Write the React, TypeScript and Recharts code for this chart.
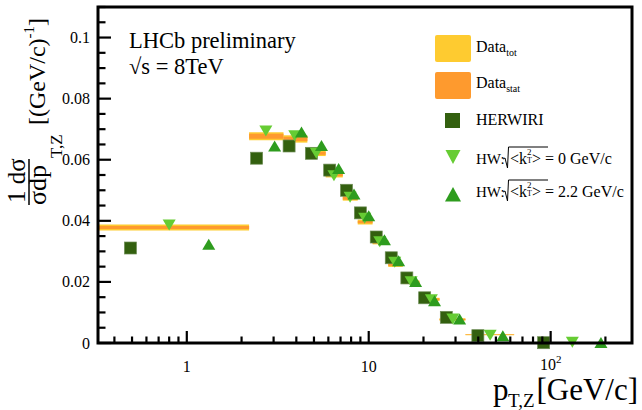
import React from "react";
import { ScatterChart, Scatter, XAxis, YAxis, ReferenceArea } from "recharts";

// pT,Z bins [GeV/c]
const binLo = [0, 2.2, 3.4, 4.6, 5.8, 7.2, 8.7, 10.5, 12.8, 15.4, 19.0, 24.5, 34.0, 63.0];
const binHi = [2.2, 3.4, 4.6, 5.8, 7.2, 8.7, 10.5, 12.8, 15.4, 19.0, 24.5, 34.0, 63.0, 270.0];

// measured data with total / statistical uncertainty
const dataVal = [0.0378, 0.0677, 0.0668, 0.0621, 0.0551, 0.0474, 0.0396, 0.033, 0.0256, 0.0199, 0.0143, 0.0077, 0.0027, 0.0002];
const dataTotErr = [0.001, 0.0013, 0.0012, 0.0009, 0.0009, 0.0008, 0.0008, 0.0007, 0.0007, 0.0006, 0.0005, 0.0004, 0.0002, 0.0001];
const dataStatErr = [0.0005, 0.0008, 0.0007, 0.0005, 0.0005, 0.0005, 0.0004, 0.0004, 0.0004, 0.0003, 0.0003, 0.0002, 0.0001, 0.0001];

// HERWIRI
const herwiriX = [0.49, 2.42, 3.65, 4.84, 6.1, 7.55, 9.0, 11.0, 13.3, 16.2, 20.3, 26.7, 39.8, 91.5];
const herwiriY = [0.0311, 0.0605, 0.0645, 0.0621, 0.0566, 0.05, 0.0426, 0.0347, 0.0279, 0.0213, 0.0148, 0.0084, 0.0024, 0.0001];

// HW: sqrt<kT^2> = 0 GeV/c
const hwK0X = [0.8, 2.72, 3.92, 5.15, 6.44, 7.9, 9.5, 11.5, 13.9, 17.1, 22.1, 29.0, 46.5, 131.6];
const hwK0Y = [0.0388, 0.0696, 0.068, 0.0623, 0.0549, 0.0479, 0.041, 0.0333, 0.0266, 0.0202, 0.0143, 0.008, 0.0027, 0.0004];

// HW: sqrt<kT^2> = 2.2 GeV/c
const hwK22X = [1.32, 3.04, 4.27, 5.5, 6.83, 8.3, 10.0, 12.2, 14.6, 18.1, 23.0, 31.6, 54.6, 189.0];
const hwK22Y = [0.0322, 0.0643, 0.0689, 0.0645, 0.057, 0.0486, 0.0415, 0.0336, 0.0268, 0.02, 0.0137, 0.0077, 0.0022, 0.0];

const xDomain = [0.325, 280];
const xMajorTicks = [1, 10, 100];
const xMajorLabels = ["1", "10", "10^2"];
const xMinorTicks = [0.4, 0.5, 0.6, 0.7, 0.8, 0.9, 2, 3, 4, 5, 6, 7, 8, 9, 20, 30, 40, 50, 60, 70, 80, 90, 200];

const yDomain = [0, 0.11];
const yMajorTicks = [0, 0.02, 0.04, 0.06, 0.08, 0.1];
const yMajorLabels = ["0", "0.02", "0.04", "0.06", "0.08", "0.1"];
const yMinorStep = 0.005;

const YELLOW = "#FECB30";
const ORANGE = "#FE9A2E";
const DARK_GREEN = "#33600F";
const LIGHT_GREEN = "#66CC33";
const MID_GREEN = "#2E9C1E";
const FONT = "'Liberation Serif', 'Times New Roman', serif";

const toPoints = (xs: number[], ys: number[]) => xs.map((x, i) => ({ x, y: ys[i] }));
const herwiriPts = toPoints(herwiriX, herwiriY);
const hwK0Pts = toPoints(hwK0X, hwK0Y);
const hwK22Pts = toPoints(hwK22X, hwK22Y);

const xTicks = [...xMinorTicks, ...xMajorTicks].sort((a, b) => a - b);
const yTicks = Array.from({ length: 23 }, (_, i) => +(i * yMinorStep).toFixed(3));

const yMajorIndex = (v: number) => yMajorTicks.findIndex((t) => Math.abs(t - v) < 1e-9);

const Square = (p: any) => (
  <rect x={p.cx - 6} y={p.cy - 6} width={12} height={12} fill={DARK_GREEN} stroke="#6d8c55" strokeWidth={0.7} />
);
const DownTri = (p: any) => (
  <polygon points={`${p.cx - 6.5},${p.cy - 5} ${p.cx + 6.5},${p.cy - 5} ${p.cx},${p.cy + 6}`} fill={LIGHT_GREEN} />
);
const UpTri = (p: any) => (
  <polygon points={`${p.cx - 6.5},${p.cy + 5} ${p.cx + 6.5},${p.cy + 5} ${p.cx},${p.cy - 6}`} fill={MID_GREEN} />
);

function XLabel({ x, text }: { x: number; text: string }) {
  if (text === "10^2") {
    return (
      <text x={x} y={370} textAnchor="middle" fontSize={16} fontFamily={FONT} fill="#000">
        10<tspan fontSize={11} dy={-7}>2</tspan>
      </text>
    );
  }
  return (
    <text x={x} y={372} textAnchor="middle" fontSize={16} fontFamily={FONT} fill="#000">
      {text}
    </text>
  );
}

// ticks point into the frame, ROOT style; plot edges: top 7, bottom 343, left 98, right 632
const TICK = { stroke: "#000", strokeWidth: 2.2 };

const BottomTick = (props: any) => {
  const { x, payload } = props;
  const i = xMajorTicks.indexOf(payload.value);
  const len = i >= 0 ? 12 : 6.5;
  const y = 343;
  return (
    <g>
      <line x1={x} x2={x} y1={y} y2={y - len} {...TICK} />
      {i >= 0 && <XLabel x={x} text={xMajorLabels[i]} />}
    </g>
  );
};

const TopTick = (props: any) => {
  const { x, payload } = props;
  const len = xMajorTicks.includes(payload.value) ? 12 : 6.5;
  return <line x1={x} x2={x} y1={7} y2={7 + len} {...TICK} />;
};

const LeftTick = (props: any) => {
  const { y, payload } = props;
  const i = yMajorIndex(payload.value);
  const x = 98;
  return (
    <g>
      <line x1={x} x2={x + (i >= 0 ? 13 : 7.5)} y1={y} y2={y} {...TICK} />
      {i >= 0 && (
        <text x={x - 8} y={y + 5.5} textAnchor="end" fontSize={16} fontFamily={FONT} fill="#000">
          {yMajorLabels[i]}
        </text>
      )}
    </g>
  );
};

const RightTick = (props: any) => {
  const { y, payload } = props;
  const len = yMajorIndex(payload.value) >= 0 ? 11 : 6;
  return <line x1={632} x2={632 - len} y1={y} y2={y} {...TICK} />;
};

function Overlay() {
  return (
    <svg width={642} height={410} style={{ position: "absolute", left: 0, top: 0, pointerEvents: "none" }} fontFamily={FONT}>
      {/* plot frame */}
      <rect x={98} y={7} width={534} height={336} fill="none" stroke="#000" strokeWidth={3} />

      {/* y axis title */}
      <text transform="translate(25,203) rotate(-90)" fontSize={25} fill="#000">1 dσ</text>
      <line x1={29} x2={29} y1={205} y2={159} stroke="#000" strokeWidth={1.5} />
      <text transform="translate(46,205) rotate(-90)" fontSize={26} fill="#000">σdp</text>
      <text transform="translate(62,158) rotate(-90)" fontSize={17} fill="#000">T,Z</text>
      <text transform="translate(45,125) rotate(-90)" fontSize={24} fill="#000">
        [(GeV/c)<tspan fontSize={15} dy={-11}>-1</tspan><tspan fontSize={24} dy={11}>]</tspan>
      </text>

      {/* x axis title */}
      <text x={493} y={400} fontSize={31} fill="#000">p</text>
      <text x={508} y={407} fontSize={19} fill="#000">T,Z</text>
      <text x={638} y={400} fontSize={31} textAnchor="end" fill="#000">[GeV/c]</text>

      {/* labels */}
      <text x={129} y={48} fontSize={22.5} fill="#000">LHCb preliminary</text>
      <text x={129} y={74} fontSize={22.5} fill="#000">√s = 8TeV</text>

      {/* legend */}
      <rect x={435} y={35} width={36} height={27} rx={2} fill={YELLOW} />
      <text x={476} y={52} fontSize={16} fill="#000">Data<tspan fontSize={10} dy={3.5}>tot</tspan></text>
      <rect x={435} y={72} width={36} height={27} rx={2} fill={ORANGE} />
      <text x={476} y={88} fontSize={16} fill="#000">Data<tspan fontSize={10} dy={3.5}>stat</tspan></text>

      <rect x={445} y={113} width={15} height={15} fill={DARK_GREEN} />
      <text x={476} y={125} fontSize={16} fill="#000">HERWIRI</text>

      <polygon points="445.5,150 460.5,150 453,164" fill={LIGHT_GREEN} />
      <text x={476} y={164} fontSize={15} fill="#000">HW:</text>
      <path d="M503,159 L505,158 L507.5,168 L508.5,147 L548,147" fill="none" stroke="#000" strokeWidth={1} />
      <text x={510} y={164} fontSize={16} fill="#000">&lt;k</text>
      <text x={527} y={155} fontSize={9} fill="#000">2</text>
      <text x={527} y={163} fontSize={8} fill="#000">T</text>
      <text x={532} y={164} fontSize={16} fill="#000">&gt; = 0 GeV/c</text>

      <polygon points="445,201.5 461,201.5 453,187" fill={MID_GREEN} />
      <text x={476} y={197} fontSize={15} fill="#000">HW:</text>
      <path d="M503,192 L505,191 L507.5,201 L508.5,180 L548,180" fill="none" stroke="#000" strokeWidth={1} />
      <text x={510} y={197} fontSize={16} fill="#000">&lt;k</text>
      <text x={527} y={188} fontSize={9} fill="#000">2</text>
      <text x={527} y={196} fontSize={8} fill="#000">T</text>
      <text x={532} y={197} fontSize={16} fill="#000">&gt; = 2.2 GeV/c</text>
    </svg>
  );
}

export default function App() {
  return (
    <div style={{ position: "absolute", left: 0, top: 0, width: 642, height: 410, background: "#fff" }}>
      <ScatterChart width={642} height={410} margin={{ top: 6, right: 9, bottom: 66, left: 97 }}>
        <XAxis
          dataKey="x"
          type="number"
          scale="log"
          domain={xDomain}
          ticks={xTicks}
          interval={0}
          height={1}
          tickSize={0}
          tickMargin={0}
          tickLine={false}
          tick={BottomTick}
          axisLine={false}
        />
        <XAxis
          xAxisId="top"
          orientation="top"
          type="number"
          scale="log"
          domain={xDomain}
          ticks={xTicks}
          interval={0}
          height={1}
          tickSize={0}
          tickMargin={0}
          tickLine={false}
          tick={TopTick}
          axisLine={false}
        />
        <YAxis
          dataKey="y"
          type="number"
          domain={yDomain}
          ticks={yTicks}
          interval={0}
          width={1}
          tickSize={0}
          tickMargin={0}
          tickLine={false}
          tick={LeftTick}
          axisLine={false}
        />
        <YAxis
          yAxisId="right"
          orientation="right"
          type="number"
          domain={yDomain}
          ticks={yTicks}
          interval={0}
          width={1}
          tickSize={0}
          tickMargin={0}
          tickLine={false}
          tick={RightTick}
          axisLine={false}
        />
        {dataVal.map((v, i) => (
          <ReferenceArea
            key={`tot${i}`}
            x1={Math.max(binLo[i], xDomain[0])}
            x2={binHi[i]}
            y1={v - dataTotErr[i]}
            y2={v + dataTotErr[i]}
            fill={YELLOW}
            fillOpacity={1}
            stroke="none"
          />
        ))}
        {dataVal.map((v, i) => (
          <ReferenceArea
            key={`stat${i}`}
            x1={Math.max(binLo[i], xDomain[0])}
            x2={binHi[i]}
            y1={v - dataStatErr[i]}
            y2={v + dataStatErr[i]}
            fill={ORANGE}
            fillOpacity={1}
            stroke="none"
          />
        ))}
        <Scatter data={herwiriPts} shape={Square} isAnimationActive={false} />
        <Scatter data={hwK0Pts} shape={DownTri} isAnimationActive={false} />
        <Scatter data={hwK22Pts} shape={UpTri} isAnimationActive={false} />
      </ScatterChart>
      <Overlay />
    </div>
  );
}
